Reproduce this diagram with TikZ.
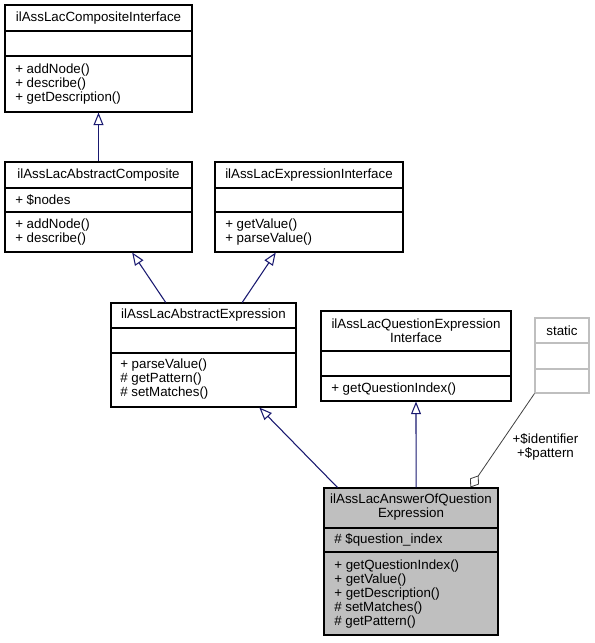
\documentclass[tikz,border=0pt]{standalone}
\usepackage{fontspec}
\setmainfont{Liberation Sans}
\usetikzlibrary{arrows.meta,calc,fit}
\definecolor{edgeblue}{HTML}{191970}
\definecolor{boxgray}{HTML}{BFBFBF}
\definecolor{aggrgray}{HTML}{404040}
\tikzset{
	classbox/.style={draw=black,line width=0.8pt,inner sep=0pt},
	member/.style={anchor=west,inner sep=0pt},
	inherit/.style={edgeblue,line width=0.8pt,-{Triangle[open,length=9.5pt,width=7.5pt]}},
	aggregate/.style={aggrgray,line width=0.6pt,-{Diamond[open,length=11pt,width=8pt]}}
}

\begin{document}
\begin{tikzpicture}[x=0.75pt,y=-0.75pt,font=\fontsize{10}{10.5}\selectfont]
		\useasboundingbox (0,0) rectangle (595,643);
		
		% The class boxes
		\node[classbox,fit={(5,5) (192,112)}] (composite) {};
		\node[classbox,fit={(5,162) (192,252)}] (abscomposite) {};
		\node[classbox,fit={(215,162) (403,252)}] (exprinterface) {};
		\node[classbox,fit={(111,303) (296,407)}] (absexpr) {};
		\node[classbox,fit={(321,311) (511,401)}] (qexprinterface) {};
		\node[classbox,draw=boxgray,fit={(535,318) (589,393)}] (static) {};
		\node[classbox,fill=boxgray,fit={(324,488) (498,635)}] (answerexpr) {};
		
		% the compartment lines
		\foreach \b/\ya/\yb in {composite/31/56,abscomposite/188/212,exprinterface/188/212,absexpr/328/353,qexprinterface/351/376,answerexpr/528/552}
		{
			\draw[line width=0.8pt] (\b.west|-0,\ya) -- (\b.east|-0,\ya);
			\draw[line width=0.8pt] (\b.west|-0,\yb) -- (\b.east|-0,\yb);
		}
		\draw[boxgray,line width=0.8pt] (static.west|-0,343) -- (static.east|-0,343);
		\draw[boxgray,line width=0.8pt] (static.west|-0,369) -- (static.east|-0,369);
		
		% class names
		\node (composite-title) at (98.5,18) {ilAssLacCompositeInterface};
		\node (abscomposite-title) at (98.5,175) {ilAssLacAbstractComposite};
		\node (exprinterface-title) at (309,175) {ilAssLacExpressionInterface};
		\node (absexpr-title) at (203.5,315.5) {ilAssLacAbstractExpression};
		\node[align=center] (qexprinterface-title) at (416,330.5) {ilAssLacQuestionExpression\\Interface};
		\node (static-title) at (562,330.5) {static};
		\node[align=center] (answerexpr-title) at (411,507) {ilAssLacAnswerOfQuestion\\Expression};
		
		% attributes
		\node[member] (abscomposite-a1) at (15,200) {+ \$nodes};
		\node[member] (answerexpr-a1) at (334,540) {\# \$question\_index};
		
		% methods
		\foreach \t [count=\i] in {{+ addNode()},{+ describe()},{+ getDescription()}}
			\node[member] (composite-m\i) at (15,{56+14*\i}) {\t};
		\foreach \t [count=\i] in {{+ addNode()},{+ describe()}}
			\node[member] (abscomposite-m\i) at (15,{211+14*\i}) {\t};
		\foreach \t [count=\i] in {{+ getValue()},{+ parseValue()}}
			\node[member] (exprinterface-m\i) at (225,{211+14*\i}) {\t};
		\foreach \t [count=\i] in {{+ parseValue()},{\# getPattern()},{\# setMatches()}}
			\node[member] (absexpr-m\i) at (120,{351+14*\i}) {\t};
		\node[member] (qexprinterface-m1) at (331,389) {+ getQuestionIndex()};
		\foreach \t [count=\i] in {{+ getQuestionIndex()},{+ getValue()},{+ getDescription()},{\# setMatches()},{\# getPattern()}}
			\node[member] (answerexpr-m\i) at (334,{552+14*\i}) {\t};
		
		% inheritance
		\draw[inherit] (abscomposite.north) -- (composite.south);
		\draw[inherit] ($(absexpr.north west)!0.297!(absexpr.north east)$) -- ($(abscomposite.south west)!0.679!(abscomposite.south east)$);
		\draw[inherit] ($(absexpr.north west)!0.708!(absexpr.north east)$) -- ($(exprinterface.south west)!0.324!(exprinterface.south east)$);
		\draw[inherit] ($(answerexpr.north west)!0.08!(answerexpr.north east)$) -- ($(absexpr.south west)!0.80!(absexpr.south east)$);
		\draw[inherit] ($(answerexpr.north west)!0.529!(answerexpr.north east)$) -- (qexprinterface.south);
		
		% the static members
		\draw[aggregate] (static.south west) -- ($(answerexpr.north west)!0.839!(answerexpr.north east)$);
		\node[align=center] (static-label) at (545.5,447) {+\$identifier\\+\$pattern};
	\end{tikzpicture}
\end{document}
